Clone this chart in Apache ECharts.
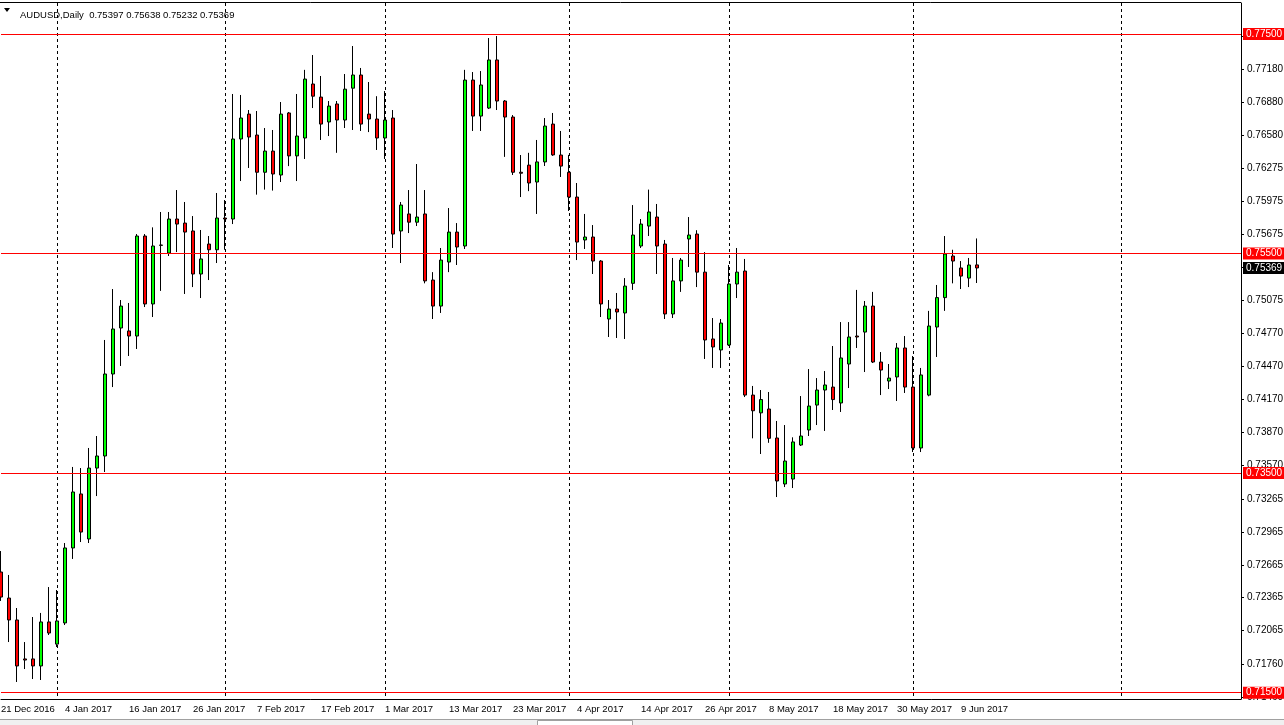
<!DOCTYPE html>
<html><head><meta charset="utf-8">
<script src="https://cdn.jsdelivr.net/npm/echarts@6/dist/echarts.min.js"></script>
<style>html,body{margin:0;padding:0;background:#fff}#c{width:1284px;height:725px}</style>
</head><body><div id="c"></div>
<script>
const symbolName = 'AUDUSD', timeframe = 'Daily';
const dateLabels = ['21 Dec 2016','4 Jan 2017','16 Jan 2017','26 Jan 2017','7 Feb 2017','17 Feb 2017','1 Mar 2017','13 Mar 2017','23 Mar 2017','4 Apr 2017','14 Apr 2017','26 Apr 2017','8 May 2017','18 May 2017','30 May 2017','9 Jun 2017'];
const monthStartBars = [7, 28, 48, 71, 91, 114, 140];
const open = [0.72599,0.72362,0.72162,0.71807,0.71807,0.71743,0.72144,0.71942,0.72135,0.72818,
0.73310,0.72900,0.73546,0.73656,0.74403,0.74822,0.74795,0.74749,0.75660,0.75041,
0.75578,0.75505,0.75815,0.75778,0.75706,0.75314,0.75587,0.75535,0.75824,0.75815,
0.76544,0.76771,0.76580,0.76241,0.76434,0.76216,0.76781,0.76390,0.76553,0.77045,
0.76926,0.76699,0.76863,0.76717,0.77007,0.77127,0.76771,0.76726,0.76553,0.76735,
0.75706,0.75861,0.75786,0.75861,0.75259,0.75022,0.75423,0.75696,0.75569,0.77081,
0.76753,0.76826,0.77264,0.76890,0.76744,0.76241,0.76306,0.76152,0.76335,0.76680,
0.76398,0.76241,0.76015,0.75624,0.75651,0.75432,0.74904,0.74995,0.74959,0.75229,
0.75569,0.75751,0.75833,0.75587,0.74950,0.75251,0.75633,0.75678,0.75331,0.74722,
0.74622,0.74667,0.75223,0.75341,0.74211,0.74049,0.74084,0.73820,0.73401,0.73446,
0.73756,0.73893,0.74120,0.74257,0.74284,0.74139,0.74494,0.74749,0.74785,0.75022,
0.74512,0.74339,0.74376,0.74640,0.74284,0.73729,0.74211,0.74831,0.75099,0.75478,
0.75369,0.75277,0.75397];
const close = [0.72371,0.72162,0.71743,0.71797,0.71743,0.72144,0.72043,0.72153,0.72818,0.73328,
0.72963,0.73546,0.73656,0.74403,0.74813,0.75022,0.74749,0.75660,0.75041,0.75569,
0.75575,0.75815,0.75769,0.75696,0.75314,0.75451,0.75535,0.75824,0.75815,0.76544,
0.76735,0.76562,0.76241,0.76434,0.76225,0.76771,0.76390,0.76571,0.77090,0.76934,
0.76680,0.76844,0.76717,0.76998,0.77127,0.76680,0.76726,0.76553,0.76717,0.75678,
0.75942,0.75786,0.75833,0.75251,0.75022,0.75441,0.75696,0.75560,0.77081,0.76753,
0.77036,0.77264,0.76890,0.76744,0.76241,0.76232,0.76143,0.76335,0.76662,0.76399,
0.76297,0.76015,0.75605,0.75651,0.75432,0.75041,0.74995,0.74968,0.75204,0.75669,
0.75769,0.75879,0.75569,0.74950,0.75251,0.75441,0.75669,0.75331,0.74713,0.74649,
0.74867,0.75223,0.75331,0.74211,0.74068,0.74170,0.73817,0.73428,0.73610,0.73784,
0.73838,0.74111,0.74257,0.74303,0.74170,0.74549,0.74740,0.74740,0.75022,0.74512,
0.74439,0.74366,0.74640,0.74284,0.73729,0.74394,0.74840,0.75099,0.75496,0.75432,
0.75295,0.75396,0.75369];
const low = [0.72335,0.71961,0.71597,0.71715,0.71624,0.71615,0.72025,0.71916,0.72116,0.72718,
0.72872,0.72863,0.73291,0.73510,0.74284,0.74476,0.74567,0.74631,0.75013,0.74922,
0.75160,0.75478,0.75514,0.75132,0.75195,0.75095,0.75259,0.75414,0.75535,0.75769,
0.76161,0.76280,0.76037,0.76083,0.76074,0.76152,0.76297,0.76161,0.76362,0.76826,
0.76535,0.76571,0.76418,0.76644,0.76626,0.76617,0.76607,0.76444,0.76362,0.75551,
0.75414,0.75687,0.75751,0.75229,0.74904,0.74959,0.75331,0.75396,0.75542,0.76617,
0.76617,0.76817,0.76808,0.76381,0.76216,0.76015,0.76069,0.75861,0.76298,0.76390,
0.76198,0.75888,0.75441,0.75542,0.75314,0.74922,0.74740,0.74731,0.74722,0.75169,
0.75551,0.75660,0.75314,0.74904,0.74913,0.75151,0.75378,0.75195,0.74540,0.74458,
0.74458,0.74658,0.75095,0.74193,0.73817,0.73674,0.73776,0.73282,0.73373,0.73364,
0.73747,0.73838,0.73938,0.73884,0.74075,0.74057,0.74275,0.74640,0.74421,0.74503,
0.74211,0.74266,0.74157,0.74230,0.73692,0.73692,0.74200,0.74558,0.74978,0.75229,
0.75177,0.75195,0.75232];
const high = [0.72790,0.72572,0.72271,0.71961,0.72189,0.72226,0.72462,0.72435,0.72863,0.73556,
0.73546,0.73729,0.73838,0.74713,0.75177,0.75077,0.75050,0.75678,0.75678,0.75739,
0.75879,0.75879,0.76079,0.75970,0.75842,0.75715,0.75660,0.76052,0.75988,0.76954,
0.76945,0.76808,0.76799,0.76644,0.76626,0.76881,0.76790,0.76954,0.77174,0.77309,
0.77118,0.76890,0.76890,0.77136,0.77391,0.77191,0.77063,0.76934,0.76981,0.76808,
0.75970,0.76079,0.76316,0.76079,0.75331,0.75551,0.75915,0.75778,0.77174,0.77154,
0.77163,0.77464,0.77482,0.76899,0.76762,0.76398,0.76418,0.76535,0.76735,0.76781,
0.76617,0.76399,0.76143,0.75861,0.75760,0.75441,0.75077,0.75141,0.75277,0.75942,
0.75815,0.76083,0.75952,0.75624,0.75460,0.75460,0.75833,0.75713,0.75514,0.74913,
0.74904,0.75396,0.75551,0.75451,0.74294,0.74257,0.74239,0.73975,0.73938,0.73826,
0.74202,0.74448,0.74366,0.74430,0.74658,0.74876,0.74876,0.75169,0.75068,0.75151,
0.74603,0.74494,0.74685,0.74749,0.74567,0.74458,0.74978,0.75214,0.75660,0.75535,
0.75432,0.75460,0.75638];
const priceTicks = [0.77480,0.77180,0.76880,0.76580,0.76275,0.75975,0.75675,0.75375,0.75075,0.74770,0.74470,0.74170,0.73870,0.73570,0.73265,0.72965,0.72665,0.72365,0.72065,0.71760,0.71460];
const levelLines = [0.775, 0.755, 0.735, 0.715];
const yMin = 0.71442, yMax = 0.77783;
const slotCount = 156;

const FONT = "'Liberation Sans',Arial,sans-serif";
const FS = 9.5;
const cats = Array.from({length: slotCount}, (_, i) => String(i));
const candles = open.map((o, i) => [o, close[i], low[i], high[i]]);
const last = open.length - 1;
const chart = echarts.init(document.getElementById('c'), null, {renderer: 'canvas'});
const levelLabel = (bg) => ({show: true, position: 'end', distance: 2, formatter: p => Number(p.value).toFixed(5),
  color: '#fff', backgroundColor: bg, padding: [1, 3, 1, 3], fontFamily: FONT, fontSize: 10, lineHeight: 10});
chart.setOption({
  animation: false,
  backgroundColor: '#fff',
  title: {text: symbolName + ',' + timeframe + '  ' + [open[last], high[last], low[last], close[last]].map(v => v.toFixed(5)).join(' '),
    left: 15, top: 5, textStyle: {fontFamily: FONT, fontSize: FS, fontWeight: 'normal', color: '#000'}},
  grid: {left: 1, right: 43, top: 3, bottom: 26, containLabel: false, outerBoundsMode: 'none'},
  xAxis: {type: 'category', data: cats, boundaryGap: false,
    axisLine: {show: true, lineStyle: {color: '#000', width: 1}},
    axisTick: {show: false},
    axisLabel: {interval: 7, align: 'left', margin: 5, fontFamily: FONT, fontSize: FS, color: '#000',
      formatter: (v, i) => dateLabels[i / 8] || ''},
    splitLine: {show: true, interval: (i) => monthStartBars.includes(i), lineStyle: {color: '#000', type: [3, 3], width: 1}}},
  yAxis: {type: 'value', position: 'right', min: yMin, max: yMax,
    axisLine: {show: true, lineStyle: {color: '#000'}},
    axisTick: {show: true, customValues: priceTicks, length: 3, lineStyle: {color: '#000'}},
    axisLabel: {customValues: priceTicks, formatter: v => v.toFixed(5), margin: 6, fontFamily: FONT, fontSize: FS + 0.5, color: '#000'},
    splitLine: {show: false}},
  graphic: [
    {type: 'line', shape: {x1: 0, y1: 2.5, x2: 1241, y2: 2.5}, style: {stroke: '#000', lineWidth: 1}},
    {type: 'polygon', shape: {points: [[4, 8], [10, 8], [7, 12]]}, style: {fill: '#000'}},
    {type: 'rect', shape: {x: 0, y: 719, width: 1284, height: 6}, style: {fill: '#f0f0f0'}},
    {type: 'line', shape: {x1: 0, y1: 719.5, x2: 1284, y2: 719.5}, style: {stroke: '#a0a0a0', lineWidth: 1}},
    {type: 'rect', shape: {x: 537.5, y: 720.5, width: 95, height: 6}, style: {fill: '#fff', stroke: '#a0a0a0', lineWidth: 1}}
  ],
  series: [{
    type: 'candlestick', data: candles, barWidth: 4, clip: false,
    itemStyle: {color: '#00ff00', color0: '#ff0000', borderColor: '#000', borderColor0: '#000', borderColorDoji: '#000', borderWidth: 1},
    markLine: {silent: true, symbol: ['none', 'none'], animation: false, precision: 5,
      data: levelLines.map(v => ({yAxis: v, lineStyle: {color: '#ff0000', width: 1, type: 'solid'}, label: levelLabel('#ff0000')}))
        .concat([{yAxis: close[last], lineStyle: {color: 'rgba(0,0,0,0)', width: 1, type: 'solid'}, label: levelLabel('#000')}])}
  }]
});
</script></body></html>
